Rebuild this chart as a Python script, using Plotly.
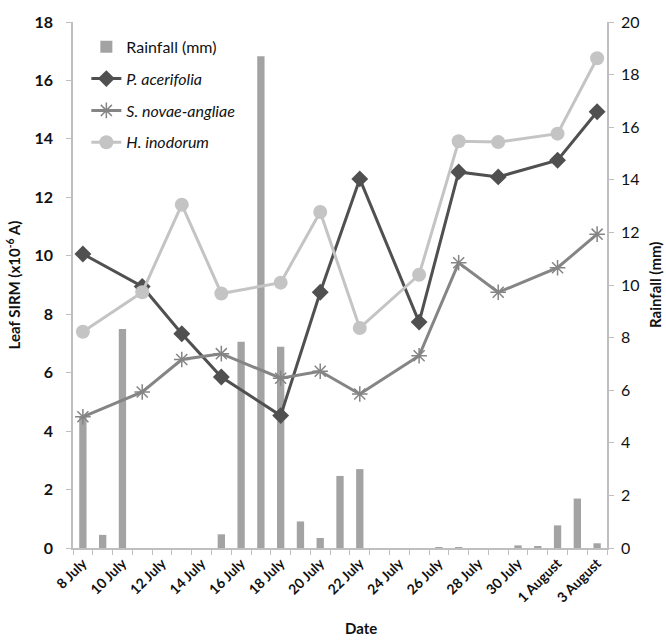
import plotly.graph_objects as go

dates = ["8 July", "9 July", "10 July", "11 July", "12 July", "13 July", "14 July",
         "15 July", "16 July", "17 July", "18 July", "19 July", "20 July", "21 July",
         "22 July", "23 July", "24 July", "25 July", "26 July", "27 July", "28 July",
         "29 July", "30 July", "31 July", "1 August", "2 August", "3 August"]
rainfall = [5.0, 0.5, 8.33, 0, 0, 0, 0, 0.52, 7.84, 18.7, 7.65, 1.01, 0.38, 2.74,
            3.0, 0, 0, 0, 0.03, 0.03, 0, 0, 0.1, 0.07, 0.86, 1.88, 0.18]

sample_dates = ["8 July", "11 July", "13 July", "15 July", "18 July", "20 July",
                "22 July", "25 July", "27 July", "29 July", "1 August", "3 August"]
p_acerifolia = [10.06, 8.95, 7.33, 5.85, 4.53, 8.75, 12.63, 7.73, 12.87, 12.7, 13.27, 14.93]
s_novae = [4.49, 5.34, 6.45, 6.65, 5.81, 6.05, 5.27, 6.58, 9.76, 8.75, 9.59, 10.74]
h_inodorum = [7.4, 8.75, 11.75, 8.71, 9.08, 11.5, 7.53, 9.35, 13.92, 13.89, 14.18, 16.76]

tick_text = [d if i % 2 == 0 else "" for i, d in enumerate(dates)]

FONT = "Lato, 'Open Sans', sans-serif"

fig = go.Figure()
fig.add_trace(go.Bar(x=dates, y=rainfall, name="Rainfall (mm)", marker_color="#a3a3a3",
                     marker_line_width=0, width=0.37, yaxis="y", legendgroup="a"))
fig.add_trace(go.Scatter(x=sample_dates, y=p_acerifolia, name="<i>P. acerifolia</i>",
                         mode="lines+markers", yaxis="y2", legendgroup="b",
                         line=dict(color="#505050", width=3),
                         marker=dict(symbol="diamond", size=13, color="#505050")))
fig.add_trace(go.Scatter(x=sample_dates, y=s_novae, name="<i>S. novae-angliae</i>",
                         mode="lines+markers", yaxis="y2", legendgroup="c",
                         line=dict(color="#858585", width=3),
                         marker=dict(symbol="asterisk-open", size=13,
                                     line=dict(color="#858585", width=1.5))))
fig.add_trace(go.Scatter(x=sample_dates, y=h_inodorum, name="<i>H. inodorum</i>",
                         mode="lines+markers", yaxis="y2", legendgroup="d",
                         line=dict(color="#c4c4c4", width=3),
                         marker=dict(symbol="circle", size=14, color="#c4c4c4")))

fig.update_layout(
    width=666, height=640,
    margin=dict(l=73, r=59, t=15, b=92),
    paper_bgcolor="white", plot_bgcolor="white",
    font=dict(family=FONT, color="#111111"),
    showlegend=True,
    legend=dict(x=0.025, y=0.985, xanchor="left", yanchor="top",
                bgcolor="rgba(0,0,0,0)", font=dict(size=16, family=FONT),
                traceorder="grouped", tracegroupgap=8),
    xaxis=dict(type="category", categoryorder="array", categoryarray=dates,
               tickvals=dates, ticktext=tick_text, tickson="boundaries",
               ticks="outside", ticklen=5, tickcolor="#bfbfbf",
               tickangle=-45, tickfont=dict(size=14, family=FONT, weight="bold"),
               showline=True, linecolor="#bfbfbf", linewidth=1.5,
               showgrid=False, range=[-0.5, 26.5], automargin=False),
    yaxis=dict(side="right", range=[0, 20], dtick=2, ticks="outside", ticklen=5,
               tickcolor="#bfbfbf", showline=True, linecolor="#bfbfbf", linewidth=1.5,
               showgrid=False, zeroline=False, ticklabelstandoff=4,
               tickfont=dict(size=16, family=FONT)),
    yaxis2=dict(side="left", overlaying="y", range=[0, 18], dtick=2, ticks="outside",
                ticklen=5, tickcolor="#bfbfbf", showline=True, linecolor="#bfbfbf",
                linewidth=1.5, showgrid=False, zeroline=False, ticklabelstandoff=10,
                tickfont=dict(size=16, family=FONT, weight="bold"),
                title=dict(text="<b>Leaf SIRM (x10<sup>-6</sup> A)</b>",
                           font=dict(size=15, family=FONT), standoff=10)),
    annotations=[
        dict(text="<b>Rainfall (mm)</b>", textangle=-90, showarrow=False,
             xref="paper", yref="paper", x=1.0, y=0.5, xshift=48,
             xanchor="center", yanchor="middle",
             font=dict(size=15, family=FONT, color="#111111")),
        dict(text="<b>Date</b>", showarrow=False,
             xref="paper", yref="paper", x=0.54, y=0, yshift=-80,
             xanchor="center", yanchor="middle",
             font=dict(size=15, family=FONT, color="#111111")),
    ],
)

fig.write_html("out.html", config={"displayModeBar": False},
               post_script="document.body.style.margin='0';document.body.style.overflow='hidden';")
